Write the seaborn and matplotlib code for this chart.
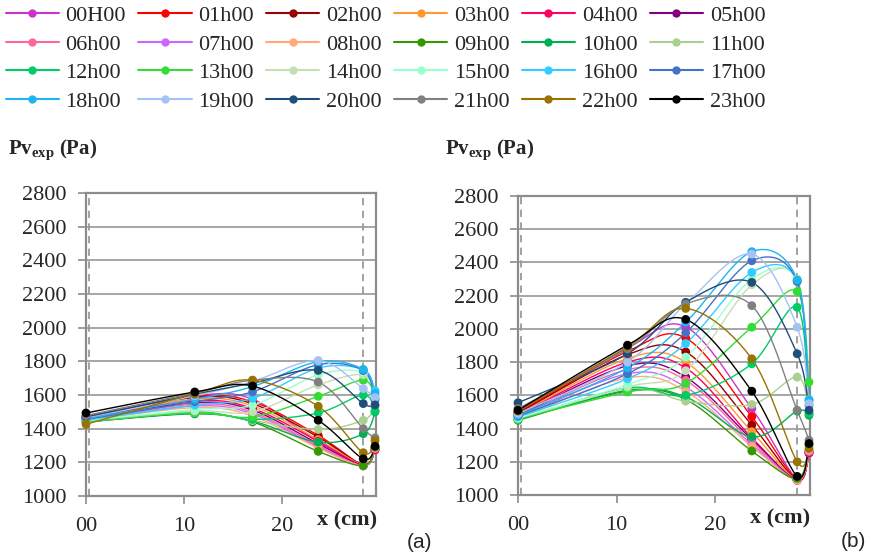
import numpy as np
import pandas as pd
import matplotlib
matplotlib.use("Agg")
import matplotlib.pyplot as plt
from matplotlib.lines import Line2D
import seaborn as sns

hours = ["00H00"] + [f"{h:02d}h00" for h in range(1, 24)]
colors = ['#CC33CC', '#FF0000', '#990000', '#FF9933', '#FF0066', '#800080',
          '#FF6699', '#CC66FF', '#FFAA77', '#339900', '#00B050', '#A9D08E',
          '#00CC66', '#33DD33', '#C4DFB4', '#99FFCC', '#33CCFF', '#4472C4',
          '#1EB4F0', '#A4C2F4', '#1F4E79', '#808080', '#997300', '#000000']

x_pos = [0, 11.1, 17.0, 23.7, 28.3, 29.5]

# panel (a): Pv per hour at each x
pv_a = [
    [1470, 1595, 1575, 1320, 1185, 1280],
    [1470, 1590, 1560, 1360, 1185, 1275],
    [1468, 1585, 1548, 1350, 1185, 1278],
    [1465, 1575, 1535, 1335, 1185, 1280],
    [1462, 1565, 1520, 1325, 1182, 1275],
    [1460, 1555, 1510, 1310, 1182, 1280],
    [1455, 1545, 1498, 1300, 1180, 1282],
    [1452, 1535, 1488, 1292, 1180, 1285],
    [1448, 1525, 1475, 1285, 1180, 1285],
    [1440, 1490, 1440, 1265, 1180, 1290],
    [1440, 1488, 1445, 1320, 1370, 1500],
    [1442, 1495, 1448, 1395, 1450, 1530],
    [1445, 1500, 1455, 1493, 1600, 1505],
    [1445, 1495, 1470, 1592, 1688, 1580],
    [1448, 1505, 1500, 1660, 1720, 1595],
    [1450, 1515, 1540, 1720, 1735, 1600],
    [1452, 1540, 1580, 1760, 1750, 1625],
    [1455, 1560, 1619, 1780, 1745, 1572],
    [1460, 1575, 1650, 1798, 1752, 1610],
    [1465, 1595, 1680, 1805, 1638, 1585],
    [1470, 1605, 1670, 1746, 1549, 1541],
    [1478, 1612, 1688, 1677, 1400, 1345],
    [1426, 1608, 1688, 1533, 1257, 1328],
    [1493, 1618, 1653, 1450, 1221, 1296],
]

# panel (b)
pv_b = [
    [1500, 1885, 2012, 1520, 1095, 1262],
    [1495, 1865, 1945, 1471, 1092, 1255],
    [1490, 1845, 1862, 1421, 1090, 1258],
    [1485, 1822, 1800, 1381, 1090, 1262],
    [1480, 1800, 1765, 1345, 1088, 1252],
    [1475, 1778, 1710, 1335, 1090, 1260],
    [1470, 1755, 1690, 1320, 1088, 1262],
    [1465, 1730, 1650, 1305, 1090, 1265],
    [1460, 1705, 1625, 1292, 1090, 1270],
    [1450, 1625, 1575, 1265, 1100, 1300],
    [1452, 1630, 1590, 1351, 1505, 1480],
    [1455, 1640, 1565, 1545, 1710, 1495],
    [1455, 1645, 1600, 1790, 2130, 1490],
    [1460, 1620, 1672, 2010, 2225, 1680],
    [1462, 1650, 1748, 2265, 2300, 1560],
    [1465, 1665, 1830, 2300, 2290, 1570],
    [1470, 1700, 1912, 2340, 2290, 1575],
    [1475, 1730, 1976, 2410, 2285, 1540],
    [1480, 1765, 2040, 2465, 2295, 1570],
    [1490, 1800, 2150, 2450, 2010, 1550],
    [1555, 1850, 2160, 2280, 1850, 1510],
    [1520, 1880, 2150, 2140, 1510, 1330],
    [1505, 1892, 2123, 1820, 1200, 1280],
    [1510, 1902, 2057, 1625, 1112, 1310],
]

yticks = list(range(1000, 2801, 200))
xticks = [0, 10, 20]
xtick_labels = ["00", "10", "20"]

sns.set_style("white")
plt.rcParams['font.family'] = 'serif'
plt.rcParams['font.serif'] = ['Liberation Serif', 'DejaVu Serif']
plt.rcParams['mathtext.fontset'] = 'custom'
plt.rcParams['mathtext.rm'] = 'Liberation Serif'
plt.rcParams['mathtext.bf'] = 'Liberation Serif:bold'
SERIF = 'Liberation Serif'


def smooth_xy(xs, ys, sx=9.8, sy=0.168, n=30):
    # excel-like smoothed line (bezier through the points, in screen units)
    pts = np.column_stack([np.asarray(xs) * sx, np.asarray(ys) * sy])
    out = [pts[0]]
    t = np.linspace(0, 1, n)[1:, None]
    for i in range(len(pts) - 1):
        p0 = pts[max(i - 1, 0)]
        p1 = pts[i]
        p2 = pts[i + 1]
        p3 = pts[min(i + 2, len(pts) - 1)]
        c1 = p1 + (p2 - p0) / 6
        c2 = p2 - (p3 - p1) / 6
        seg = (1 - t) ** 3 * p1 + 3 * (1 - t) ** 2 * t * c1 + 3 * (1 - t) * t ** 2 * c2 + t ** 3 * p2
        out.extend(seg)
    out = np.array(out)
    return out[:, 0] / sx, out[:, 1] / sy


def draw_panel(ax, data, tag):
    rows = []
    pts = []
    for k, h in enumerate(hours):
        sxs, sys_ = smooth_xy(x_pos, data[k])
        for j, (a, b) in enumerate(zip(sxs, sys_)):
            rows.append({"x": a, "pv": b, "hour": h, "order": j})
        for a, b in zip(x_pos, data[k]):
            pts.append({"x": a, "pv": b, "hour": h})
    df = pd.DataFrame(rows)
    dp = pd.DataFrame(pts)
    pal = dict(zip(hours, colors))

    for y in yticks:
        ax.axhline(y, color='#A6A6A6', lw=1.4, zorder=0)
    for xv in [0.3, 28.3]:
        ax.axvline(xv, color='#9A9A9A', lw=1.3, ls=(0, (4, 3)), zorder=0.5)

    sns.lineplot(data=df, x="x", y="pv", hue="hour", palette=pal, sort=False,
                 estimator=None, lw=1.0, legend=False, ax=ax, hue_order=hours)
    sns.scatterplot(data=dp, x="x", y="pv", hue="hour", palette=pal, s=40,
                    edgecolor='none', legend=False, ax=ax, hue_order=hours,
                    clip_on=False, zorder=3)

    ax.set_xlim(0, 29.6)
    ax.set_ylim(1000, 2800)
    ax.set_yticks(yticks)
    ax.set_yticklabels([str(v) for v in yticks], fontsize=16, family=SERIF)
    ax.set_xticks(xticks)
    ax.set_xticklabels(xtick_labels, fontsize=16, family=SERIF)
    ax.tick_params(axis='both', length=6, width=1.2, color='#8C8C8C',
                   direction='out', left=True, bottom=True)
    ax.tick_params(axis='x', pad=9)
    ax.tick_params(axis='y', pad=8)
    ax.set_xlabel("")
    ax.set_ylabel("")
    for sp in ax.spines.values():
        sp.set_color('#8C8C8C')
        sp.set_linewidth(1.6)
    ax.text(26.6, -0.08, "x (cm)", transform=ax.get_xaxis_transform(),
            fontsize=16, fontweight='bold', family=SERIF, ha='center', va='center')
    ax.text(1.15, -0.155, tag, transform=ax.transAxes, fontsize=15,
            family='Liberation Sans', ha='center', va='center')


fig = plt.figure(figsize=(8.74, 5.56), dpi=100)
ax1 = fig.add_axes([86 / 874, 1 - 496 / 556, 290 / 874, 303 / 556])
ax2 = fig.add_axes([518 / 874, 1 - 495 / 556, 292 / 874, 299 / 556])
draw_panel(ax1, pv_a, "(a)")
draw_panel(ax2, pv_b, "(b)")

fig.text(8 / 874, 1 - 150 / 556, r"$\mathbf{Pv_{exp}}$ (Pa)", fontsize=15,
         fontweight='bold', family=SERIF, ha='left', va='center')
fig.text(445 / 874, 1 - 150 / 556, r"$\mathbf{Pv_{exp}}$ (Pa)", fontsize=15,
         fontweight='bold', family=SERIF, ha='left', va='center')

handles = [Line2D([0], [0], color=c, lw=1.5, marker='o', markersize=5) for c in colors]
order = [r * 6 + c for c in range(6) for r in range(4)]
fig.legend([handles[i] for i in order], [hours[i] for i in order], ncol=6,
           loc='upper left', bbox_to_anchor=(0.0, 1.0), frameon=False,
           prop={'family': SERIF, 'size': 16}, handlelength=2.4,
           handletextpad=0.3, columnspacing=0.55,
           labelspacing=0.36, borderpad=0.25, borderaxespad=0.0)

fig.savefig("out.png", dpi=100)
